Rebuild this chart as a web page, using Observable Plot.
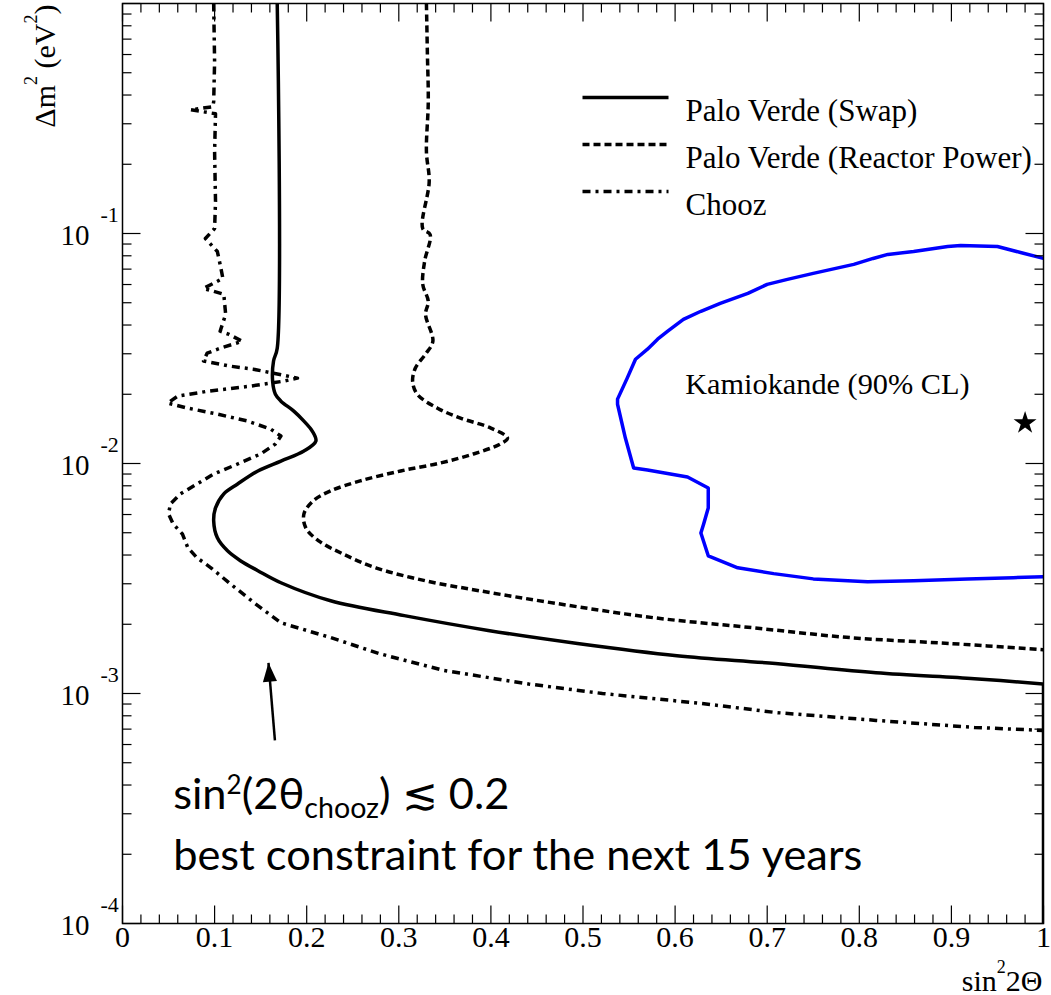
<!DOCTYPE html>
<html>
<head>
<meta charset="utf-8">
<script src="https://cdn.jsdelivr.net/npm/d3@7"></script>
<script src="https://cdn.jsdelivr.net/npm/@observablehq/plot@0.6"></script>
<style>
  html, body { margin: 0; padding: 0; background: #fff; overflow: hidden; }
  svg { display: block; }
</style>
</head>
<body>
<div id="chart"></div>
<script>
// ---------- data ----------
// Palo Verde (Swap) — solid
const swapX = [0.168, 0.168, 0.164, 0.163, 0.166, 0.172, 0.186, 0.197, 0.206, 0.210, 0.197, 0.172, 0.147, 0.125, 0.110, 0.101, 0.099, 0.103, 0.114, 0.128, 0.147, 0.172, 0.226, 0.306, 0.397, 0.494, 0.602, 0.709, 0.818, 0.925, 1.0];
const swapY = [1, 0.0317, 0.0279, 0.0228, 0.0200, 0.01867, 0.0169, 0.01529, 0.01384, 0.01253, 0.01133, 0.01025, 0.00928, 0.00815, 0.00738, 0.00641, 0.00563, 0.00475, 0.00417, 0.00378, 0.00342, 0.00303, 0.00253, 0.00218, 0.00188, 0.00165, 0.00146, 0.00135, 0.00123, 0.00116, 0.00110];
// the Swap contour then runs down the sin²2Θ = 1 edge
const swapEdgeX = [1.0, 1.0];
const swapEdgeY = [0.00110, 0.0001];

// Palo Verde (Reactor Power) — dashed
const powerX = [0.330, 0.331, 0.332, 0.330, 0.333, 0.326, 0.334, 0.328, 0.326, 0.332, 0.329, 0.337, 0.329, 0.318, 0.315, 0.320, 0.342, 0.367, 0.400, 0.418, 0.410, 0.381, 0.345, 0.302, 0.258, 0.226, 0.207, 0.197, 0.199, 0.213, 0.239, 0.275, 0.329, 0.387, 0.472, 0.576, 0.683, 0.790, 0.898, 1.0];
const powerY = [1, 0.616, 0.374, 0.2268, 0.168, 0.1051, 0.0990, 0.0756, 0.0601, 0.0507, 0.0445, 0.0340, 0.0299, 0.0260, 0.0228, 0.0200, 0.0174, 0.01575, 0.01426, 0.0129, 0.01215, 0.0110, 0.01005, 0.00928, 0.0084, 0.0076, 0.00688, 0.00604, 0.00525, 0.00461, 0.00405, 0.00352, 0.00309, 0.0028, 0.00246, 0.002137, 0.001934, 0.00175, 0.00165, 0.00155];

// Chooz — dash-dot
const choozX = [0.099, 0.100, 0.099, 0.098, 0.074, 0.101, 0.100, 0.101, 0.100, 0.090, 0.103, 0.106, 0.109, 0.088, 0.110, 0.112, 0.106, 0.115, 0.130, 0.106, 0.092, 0.088, 0.117, 0.142, 0.164, 0.190, 0.175, 0.139, 0.092, 0.060, 0.049, 0.071, 0.103, 0.136, 0.161, 0.172, 0.166, 0.150, 0.125, 0.099, 0.081, 0.063, 0.052, 0.050, 0.055, 0.065, 0.071, 0.081, 0.096, 0.117, 0.144, 0.172, 0.226, 0.279, 0.349, 0.441, 0.521, 0.629, 0.709, 0.818, 0.925, 1.0];
const choozY = [1, 0.557, 0.374, 0.3556, 0.345, 0.3317, 0.2268, 0.1376, 0.1051, 0.0951, 0.0835, 0.0734, 0.0638, 0.0577, 0.0544, 0.0445, 0.0376, 0.0365, 0.0340, 0.0317, 0.0302, 0.0279, 0.0265, 0.0257, 0.0247, 0.0235, 0.0228, 0.0217, 0.0206, 0.01963, 0.0183, 0.0174, 0.0164, 0.01529, 0.0141, 0.01316, 0.01215, 0.0110, 0.00995, 0.0090, 0.00815, 0.00738, 0.00667, 0.00604, 0.00546, 0.00494, 0.0043, 0.00389, 0.00352, 0.0030, 0.00246, 0.00203, 0.00175, 0.00149, 0.001259, 0.00110, 0.00100, 0.000905, 0.000827, 0.000764, 0.000712, 0.000691];

// Kamiokande (90% CL) — blue contour
const kamX = [1.0, 0.975, 0.950, 0.910, 0.896, 0.859, 0.831, 0.815, 0.794, 0.750, 0.722, 0.700, 0.679, 0.649, 0.628, 0.609, 0.592, 0.581, 0.570, 0.557, 0.548, 0.5375, 0.5375, 0.546, 0.555, 0.570, 0.6135, 0.636, 0.636, 0.631, 0.628, 0.636, 0.668, 0.707, 0.750, 0.809, 0.859, 0.9175, 0.967, 1.0];
const kamY = [0.0779, 0.0827, 0.0878, 0.0887, 0.0878, 0.0835, 0.0811, 0.0779, 0.0734, 0.0671, 0.0632, 0.0601, 0.0549, 0.0497, 0.0459, 0.0423, 0.0376, 0.0347, 0.0314, 0.0284, 0.0235, 0.01905, 0.0181, 0.0129, 0.00956, 0.00937, 0.00874, 0.00783, 0.00641, 0.00546, 0.00499, 0.00397, 0.00352, 0.00332, 0.00315, 0.00306, 0.00309, 0.00315, 0.00319, 0.00322];

// Kamiokande best fit (star) and its label
const bestFit = [{x: 0.980, y: 0.0150}];
const kamLabel = [{x: 0.611, y: 0.0221, text: "Kamiokande (90% CL)"}];

// annotation text and arrow
const annotations = [
  {x: 0.055, y: 3.16e-4, text: "sin^{2}(2θ_{chooz}) ≲ 0.2"},
  {x: 0.055, y: 1.717e-4, text: "best constraint for the next 15 years"}
];
const arrow = [{x1: 0.1655, y1: 6.25e-4, x2: 0.1585, y2: 1.36e-3}];

// legend
const legendLabels = ["Palo Verde (Swap)", "Palo Verde (Reactor Power)", "Chooz"];
const legendDash = [null, "7,4", "8,5,3,5"];

// axes
const xMajor = [0, 0.1, 0.2, 0.3, 0.4, 0.5, 0.6, 0.7, 0.8, 0.9, 1];
const xLabels = ["0", "0.1", "0.2", "0.3", "0.4", "0.5", "0.6", "0.7", "0.8", "0.9", "1"];
const yMajor = [1e-1, 1e-2, 1e-3, 1e-4];
const yExponents = ["-1", "-2", "-3", "-4"];
const xTitle = "sin^{2}2Θ";
const yTitle = "Δm^{2} (eV^{2})";

// ---------- build ----------
const xMinor = d3.range(0, 51).map(i => i / 50).filter(v => Math.abs(v * 10 - Math.round(v * 10)) > 1e-6);
const yMinor = [];
[1e-4, 1e-3, 1e-2, 1e-1].forEach(d => { for (let k = 2; k <= 9; k++) yMinor.push(d * k); });
const yMajorAll = [1, 1e-1, 1e-2, 1e-3, 1e-4];

const table = (X, Y) => X.map((x, i) => ({x, y: Y[i]}));
const swap = table(swapX, swapY);
const swapEdge = table(swapEdgeX, swapEdgeY);
const power = table(powerX, powerY);
const chooz = table(choozX, choozY);
const kam = table(kamX, kamY);

const serif = "'Liberation Serif', 'Times New Roman', serif";
const lineShape = {draw(ctx, l) { ctx.moveTo(0, 0); ctx.lineTo(0, -l); }};
// narrow arrow head with apex at origin, tilted like the reference arrow
const headSymbol = {draw(ctx) { ctx.moveTo(0, 0); ctx.lineTo(8.5, 18.3); ctx.lineTo(-5.6, 19.5); ctx.closePath(); }};

function ticks(values, ch, anchor, rotate, length) {
  return Plot.vector(values, {
    [ch]: d => d, frameAnchor: anchor, rotate, length, anchor: "start",
    shape: lineShape, stroke: "black", strokeWidth: 1.2, strokeLinecap: "butt"
  });
}

const curveStyle = {x: "x", y: "y", stroke: "black", strokeWidth: 3.5, clip: true, strokeLinecap: "butt", strokeLinejoin: "round"};

const legendMarks = [];
legendLabels.forEach((label, i) => {
  legendMarks.push(Plot.vector([0], {
    frameAnchor: "top-left", dx: 460, dy: 94 + 47 * i, rotate: 90, length: 86, anchor: "start",
    shape: lineShape, stroke: "black", strokeWidth: 3.5, strokeLinecap: "butt",
    strokeDasharray: legendDash[i]
  }));
  legendMarks.push(Plot.text([label], {
    text: d => d, frameAnchor: "top-left", dx: 563, dy: 95 + 47 * i,
    textAnchor: "start", fontSize: 31, fontFamily: serif, fill: "black"
  }));
});

const chart = Plot.plot({
  width: 1051,
  height: 995,
  marginLeft: 122,
  marginRight: 8,
  marginTop: 3,
  marginBottom: 72,
  style: {fontFamily: serif, background: "white", color: "black"},
  x: {domain: [0, 1], axis: null},
  y: {type: "log", domain: [1e-4, 1], axis: null},
  marks: [
    // curves
    Plot.line(kam, {...curveStyle, stroke: "#0000ff", curve: "linear"}),
    Plot.line(chooz, {...curveStyle, strokeDasharray: "8,5,3,5", curve: "linear"}),
    Plot.line(power, {...curveStyle, strokeDasharray: "7,4", curve: "catmull-rom"}),
    Plot.line(swap, {...curveStyle, curve: "catmull-rom"}),
    Plot.line(swapEdge, {...curveStyle, curve: "linear"}),
    // star + label
    Plot.dot(bestFit, {x: "x", y: "y", symbol: "star", r: 7.2, fill: "black", stroke: "none"}),
    Plot.text(kamLabel, {x: "x", y: "y", text: "text", textAnchor: "start", fontSize: 30.3, fontFamily: serif, fill: "black"}),
    // legend
    ...legendMarks,
    // annotation
    Plot.link(arrow, {x1: "x1", y1: "y1", x2: "x2", y2: "y2", stroke: "black", strokeWidth: 2.5}),
    Plot.dot(arrow, {x: "x2", y: "y2", symbol: headSymbol, r: 5, fill: "black", stroke: "none"}),
    Plot.text(annotations, {x: "x", y: "y", text: "text", textAnchor: "start", lineAnchor: "bottom", fontSize: 43.4, fontFamily: "Lato, 'Open Sans', sans-serif", fill: "black"}),
    // ticks (inward, on all four sides)
    ticks(xMajor, "x", "bottom", 0, 18),
    ticks(xMinor, "x", "bottom", 0, 9),
    ticks(xMajor, "x", "top", 180, 18),
    ticks(xMinor, "x", "top", 180, 9),
    ticks(yMajorAll, "y", "left", 90, 18),
    ticks(yMinor, "y", "left", 90, 9),
    ticks(yMajorAll, "y", "right", -90, 18),
    ticks(yMinor, "y", "right", -90, 9),
    // tick labels
    Plot.text(xMajor, {x: d => d, text: (d, i) => xLabels[i], frameAnchor: "bottom", dy: 23, fontSize: 30, fill: "black"}),
    Plot.text(yMajor, {y: d => d, text: () => "10", frameAnchor: "left", textAnchor: "end", dx: -33, dy: 2, fontSize: 29, fill: "black"}),
    Plot.text(yMajor, {y: d => d, text: (d, i) => yExponents[i], frameAnchor: "left", textAnchor: "start", dx: -22, dy: -19, fontSize: 22, fill: "black"}),
    // axis titles
    Plot.text([xTitle], {text: d => d, frameAnchor: "bottom-right", textAnchor: "end", lineAnchor: "bottom", dx: -1, dy: 67, fontSize: 30, fill: "black"}),
    Plot.text([yTitle], {text: d => d, frameAnchor: "top-left", rotate: -90, textAnchor: "end", dx: -89, dy: 1, fontSize: 30, fill: "black"}),
    // frame
    Plot.frame({stroke: "black", strokeWidth: 1.5})
  ]
});

document.getElementById("chart").appendChild(chart);

// superscripts / subscripts written as ^{..} and _{..}
(function richText(svg) {
  const NS = "http://www.w3.org/2000/svg";
  svg.querySelectorAll("text").forEach(el => {
    const s = el.textContent;
    if (!/[\^_]\{/.test(s)) return;
    const cs = getComputedStyle(el);
    const fs = parseFloat(cs.fontSize);
    const sans = /Lato/.test(cs.fontFamily);
    el.textContent = "";
    const re = /([\^_])\{([^}]*)\}|([^\^_]+)/g;
    let m, cur = 0;
    while ((m = re.exec(s))) {
      const t = document.createElementNS(NS, "tspan");
      let target = 0;
      if (m[3] !== undefined) {
        t.textContent = m[3];
      } else {
        t.textContent = m[2];
        const sup = m[1] === "^";
        t.setAttribute("font-size", (fs * (sup ? 0.6 : 0.66)).toFixed(1));
        target = sup ? -(sans ? 0.33 : 0.6) * fs : 0.22 * fs;
      }
      if (target !== cur) t.setAttribute("dy", (target - cur).toFixed(1));
      cur = target;
      el.appendChild(t);
    }
  });
})(chart);
</script>
</body>
</html>
